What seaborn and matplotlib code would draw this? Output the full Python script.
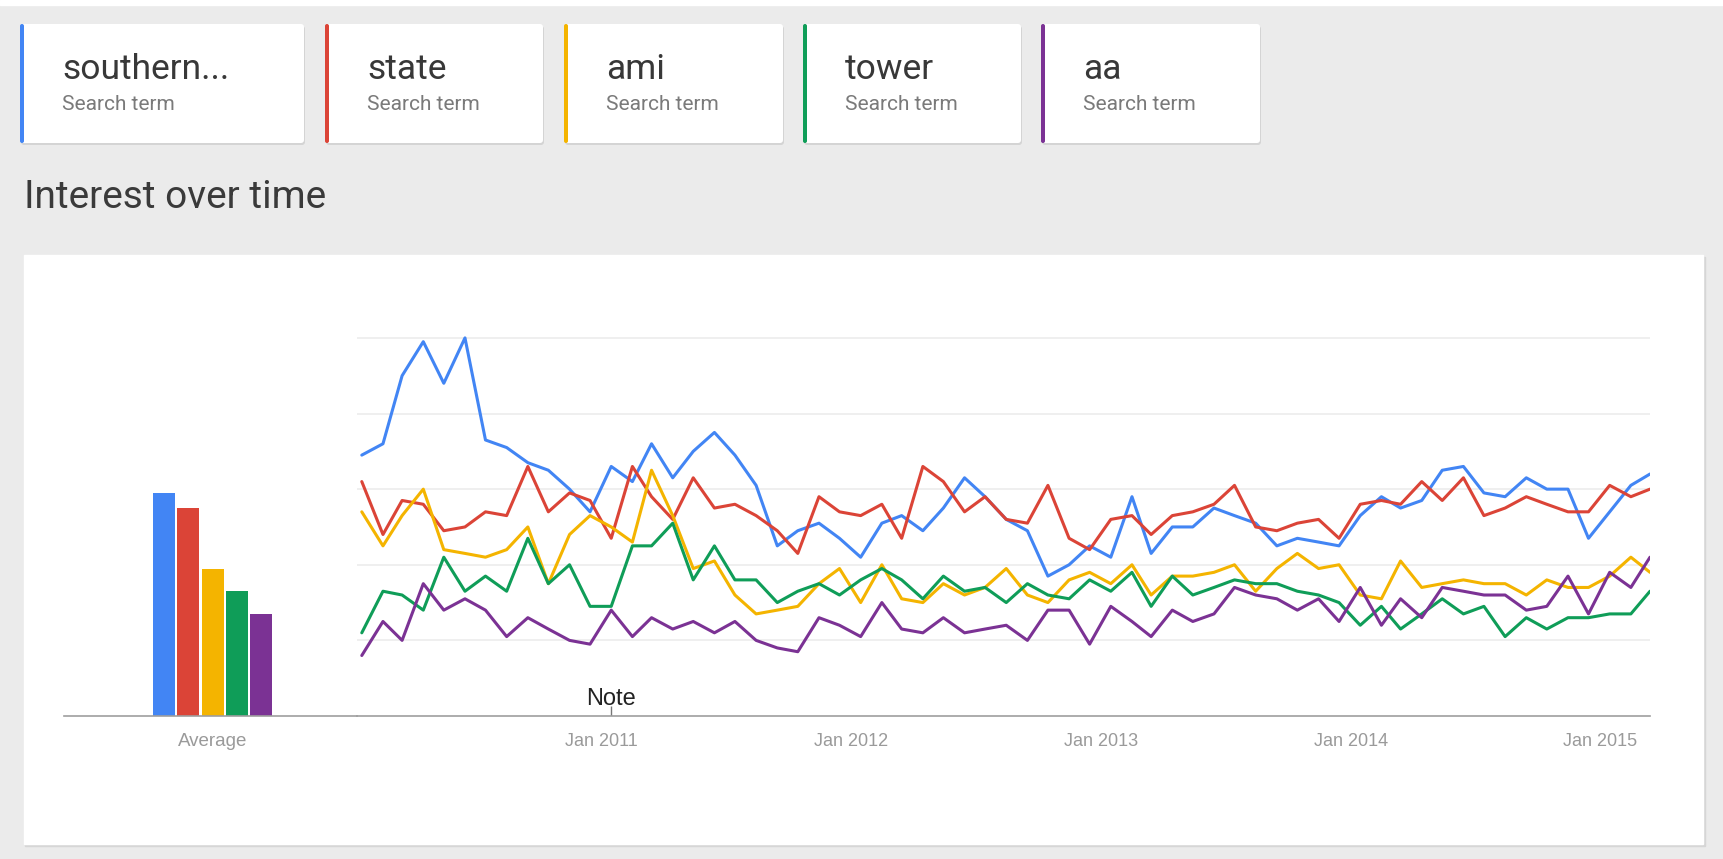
import numpy as np
import pandas as pd
import seaborn as sns
import matplotlib
matplotlib.use('Agg')
import matplotlib.pyplot as plt
from matplotlib.patches import Rectangle, FancyBboxPatch

# search terms and their monthly interest (Jan 2010 - Mar 2015)
terms = ['southern...', 'state', 'ami', 'tower', 'aa']
colors = ['#4285f4', '#db4437', '#f4b400', '#0f9d58', '#7b3294']

southern = [69, 72, 90, 99, 88, 100, 73, 71, 67, 65, 60,
            54, 66, 62, 72, 63, 70, 75, 69, 61, 45,
            49, 51, 47, 42, 51, 53, 49, 55, 63, 58,
            52, 49, 37, 40, 45, 42, 58, 43, 50, 50,
            55, 53, 51, 45, 47, 46, 45, 53, 58, 55,
            57, 65, 66, 59, 58, 63, 60, 60, 47, 54,
            61, 64]
state = [62, 48, 57, 56, 49, 50, 54, 53, 66, 54, 59,
         57, 47, 66, 58, 52, 63, 55, 56, 53, 49,
         43, 58, 54, 53, 56, 47, 66, 62, 54, 58,
         52, 51, 61, 47, 44, 52, 53, 48, 53, 54,
         56, 61, 50, 49, 51, 52, 47, 56, 57, 56,
         62, 57, 63, 53, 55, 58, 56, 54, 54, 61,
         58, 60]
ami = [54, 45, 53, 60, 44, 43, 42, 44, 50, 35, 48,
       53, 50, 46, 65, 53, 39, 41, 32, 27, 28,
       29, 35, 39, 30, 40, 31, 30, 35, 32, 34,
       39, 32, 30, 36, 38, 35, 40, 32, 37, 37,
       38, 40, 33, 39, 43, 39, 40, 32, 31, 41,
       34, 35, 36, 35, 35, 32, 36, 34, 34, 37,
       42, 38]
tower = [22, 33, 32, 28, 42, 33, 37, 33, 47, 35, 40,
         29, 29, 45, 45, 51, 36, 45, 36, 36, 30,
         33, 35, 32, 36, 39, 36, 31, 37, 33, 34,
         30, 35, 32, 31, 36, 33, 38, 29, 37, 32,
         34, 36, 35, 35, 33, 32, 30, 24, 29, 23,
         27, 31, 27, 29, 21, 26, 23, 26, 26, 27,
         27, 33]
aa = [16, 25, 20, 35, 28, 31, 28, 21, 26, 23, 20,
      19, 28, 21, 26, 23, 25, 22, 25, 20, 18,
      17, 26, 24, 21, 30, 23, 22, 26, 22, 23,
      24, 20, 28, 28, 19, 29, 25, 21, 28, 25,
      27, 34, 32, 31, 28, 31, 25, 34, 24, 31,
      26, 34, 33, 32, 32, 28, 29, 37, 27, 38,
      34, 42]
averages = [59, 55, 39, 33, 27]

tick_dates = ['2011-01-01', '2012-01-01', '2013-01-01', '2014-01-01', '2015-01-01']
tick_labels = ['Jan 2011', 'Jan 2012', 'Jan 2013', 'Jan 2014', 'Jan 2015']
note_date = '2011-01-15'

W, H = 1723, 859


def fbox(x0, y0, x1, y1):
    return [x0 / W, 1 - y1 / H, (x1 - x0) / W, (y1 - y0) / H]


def main():
    sns.set_style('white')
    plt.rcParams['font.family'] = ['Roboto', 'DejaVu Sans']

    dates = pd.date_range('2010-01-01', periods=len(southern), freq='MS') + pd.Timedelta(days=14)
    df = pd.DataFrame({
        'date': np.tile(dates, len(terms)),
        'term': np.repeat(terms, len(dates)),
        'value': np.concatenate([southern, state, ami, tower, aa]),
    })
    avg = pd.DataFrame({'term': terms, 'avg': averages})
    palette = dict(zip(terms, colors))

    fig = plt.figure(figsize=(W / 100, H / 100), dpi=100)
    fig.patch.set_facecolor('#ebebeb')

    # page background drawn in pixel space
    bg = fig.add_axes([0, 0, 1, 1])
    bg.set_xlim(0, W)
    bg.set_ylim(H, 0)
    bg.axis('off')
    bg.add_patch(Rectangle((0, 0), W, 5, color='white'))
    bg.add_patch(Rectangle((25, 257), 1680, 589, color='#d6d6d6'))
    bg.add_patch(Rectangle((24, 255), 1679, 589, color='white'))

    cards = [(20, 304), (325, 543), (564, 783), (803, 1021), (1041, 1260)]
    for (x0, x1), term, col in zip(cards, terms, colors):
        bg.add_patch(FancyBboxPatch((x0 + 1, 26), x1 - x0, 119,
                                    boxstyle='round,pad=0,rounding_size=3',
                                    fc='#d4d4d4', ec='none'))
        bg.add_patch(FancyBboxPatch((x0, 24), x1 - x0, 119,
                                    boxstyle='round,pad=0,rounding_size=3',
                                    fc='white', ec='none'))
        bg.add_patch(FancyBboxPatch((x0, 24), 4, 119,
                                    boxstyle='round,pad=0,rounding_size=2',
                                    fc=col, ec='none'))
        bg.text(x0 + 42, 79, term, fontsize=25.5, color='#383838', va='baseline')
        bg.text(x0 + 42, 110, 'Search term', fontsize=15, color='#7a7a7a', va='baseline')

    bg.text(24, 208, 'Interest over time', fontsize=28, color='#3a3a3a', va='baseline')

    # average bars
    bx = fig.add_axes(fbox(64, 319, 357, 716))
    sns.barplot(data=avg, x='term', y='avg', hue='term', palette=palette,
                width=0.9, saturation=1, legend=False, ax=bx, linewidth=0)
    bx.set_xlim(-4.12, 7.94)
    bx.set_ylim(0, 105)
    bx.set_xticks([2])
    bx.set_xticklabels(['Average'], family=['Liberation Sans'], fontsize=13.5, color='#9a9a9a')
    bx.set_yticks([])
    bx.set_xlabel('')
    bx.set_ylabel('')
    bx.tick_params(axis='x', length=0, pad=12)
    for side in ('top', 'left', 'right'):
        bx.spines[side].set_visible(False)
    bx.spines['bottom'].set_color('#9e9e9e')
    bx.spines['bottom'].set_linewidth(1.2)
    bx.patch.set_alpha(0)

    # interest over time lines
    ax = fig.add_axes(fbox(357, 319, 1650, 716))
    for y in (20, 40, 60, 80, 100):
        ax.axhline(y, color='#ebebeb', lw=1.1, zorder=0)
    sns.lineplot(data=df, x='date', y='value', hue='term', palette=palette,
                 linewidth=2.2, legend=False, ax=ax)
    ax.set_xlim(dates[0] - pd.Timedelta(days=7), dates[-1])
    ax.set_ylim(0, 105)
    ax.set_xticks(pd.to_datetime(tick_dates))
    ax.set_xticklabels(tick_labels, family=['Liberation Sans'], fontsize=13, color='#9a9a9a')
    ax.set_yticks([])
    ax.set_xlabel('')
    ax.set_ylabel('')
    ax.tick_params(axis='x', length=0, pad=12)
    for side in ('top', 'left', 'right'):
        ax.spines[side].set_visible(False)
    ax.spines['bottom'].set_color('#9e9e9e')
    ax.spines['bottom'].set_linewidth(1.2)
    ax.patch.set_alpha(0)

    nd = pd.Timestamp(note_date)
    ax.vlines(nd, 0, 2.6, color='#777777', lw=1)
    ax.text(nd, 3.0, 'Note', ha='center', va='baseline', fontsize=17,
            family=['Liberation Sans'], color='#222222')

    fig.savefig('out.png', dpi=100, facecolor=fig.get_facecolor())
    plt.close(fig)


if __name__ == '__main__':
    main()
